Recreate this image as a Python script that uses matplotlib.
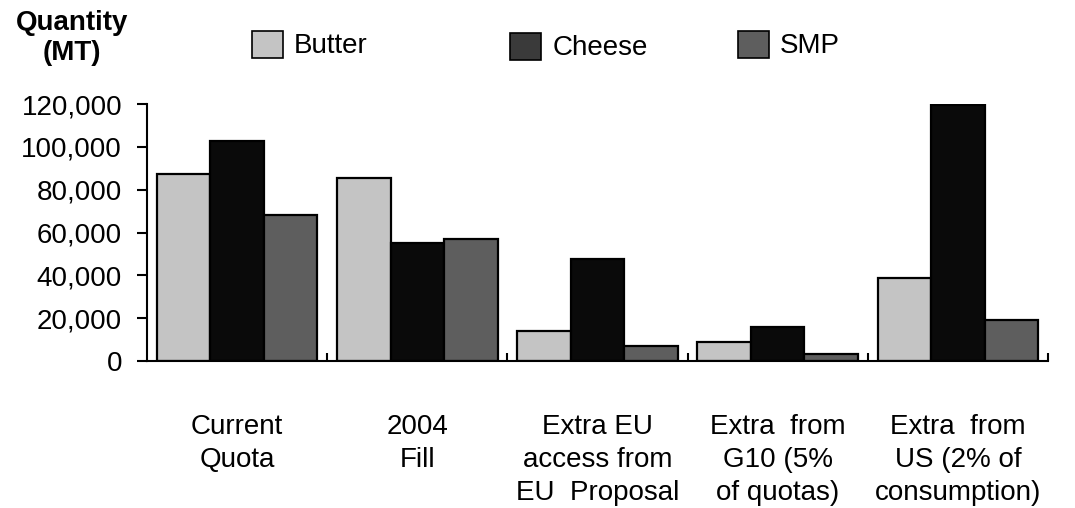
import numpy as np
import matplotlib
matplotlib.use("Agg")
import matplotlib.pyplot as plt
from matplotlib.patches import Patch
from matplotlib.ticker import FuncFormatter

plt.rcParams['font.family'] = ['Liberation Sans', 'DejaVu Sans']

categories = ["Current\nQuota", "2004\nFill", "Extra EU\naccess from\nEU  Proposal",
              "Extra  from\nG10 (5%\nof quotas)", "Extra  from\nUS (2% of\nconsumption)"]
butter = [87500, 85600, 14000, 8700, 38700]
cheese = [102500, 55200, 47400, 15900, 119500]
smp = [68000, 56900, 7000, 3400, 19300]

series = [("Butter", butter, "#c4c4c4", "#c4c4c4"),
          ("Cheese", cheese, "#0a0a0a", "#3a3a3a"),
          ("SMP", smp, "#5e5e5e", "#5e5e5e")]

fig = plt.figure(figsize=(10.75, 5.08), dpi=100)
ax = fig.add_axes([147/1075, 1 - 361/508, (1048 - 147)/1075, (361 - 104)/508])

x = np.arange(len(categories))
w = 0.297
for i, (name, vals, col, _) in enumerate(series):
    ax.bar(x + (i - 1) * w, vals, w, color=col, edgecolor="black", linewidth=1.6)

ax.set_xlim(-0.5, len(categories) - 0.5)
ax.set_ylim(0, 120000)
ax.set_yticks(np.arange(0, 120001, 20000))
ax.yaxis.set_major_formatter(FuncFormatter(lambda v, p: f"{int(v):,}"))
ax.tick_params(axis="y", direction="out", length=7, width=1.5, pad=11, labelsize=20)

ax.set_xticks(x)
ax.set_xticklabels(categories, fontsize=20, linespacing=1.36)
ax.set_xticks(np.arange(0.5, len(categories)), minor=True)
ax.tick_params(axis="x", which="major", length=0, pad=38)
ax.tick_params(axis="x", which="minor", direction="in", length=6, width=1.5)

for s in ["top", "right"]:
    ax.spines[s].set_visible(False)
ax.spines["left"].set_linewidth(1.5)
ax.spines["bottom"].set_linewidth(1.5)

# legend entries placed one by one
legend_pos = [(252, 45), (510, 47), (738, 45)]
for (name, vals, col, lcol), (px, py) in zip(series, legend_pos):
    fig.legend(handles=[Patch(facecolor=lcol, edgecolor="black", linewidth=1.2)], labels=[name],
               loc="center left", bbox_to_anchor=(px/1075, 1 - py/508), frameon=False,
               fontsize=20, handlelength=1.12, handleheight=1.12, handletextpad=0.4,
               borderpad=0, borderaxespad=0)

fig.text(72/1075, 1 - 38/508, "Quantity\n(MT)", ha="center", va="center",
         fontsize=20, fontweight="bold", linespacing=1.25)

fig.savefig("out.png", dpi=100)
